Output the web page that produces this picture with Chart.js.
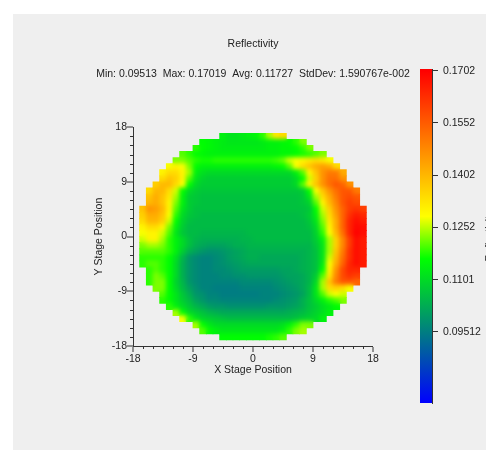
<!DOCTYPE html>
<html>
<head>
<meta charset="utf-8">
<title>Reflectivity</title>
<script src="https://cdn.jsdelivr.net/npm/chart.js@4/dist/chart.umd.js"></script>
<style>
    html, body { margin: 0; padding: 0; background: #fff; overflow: hidden; }
    #fondo { position: absolute; left: 13px; top: 14px; width: 473px; height: 436px; background: #efefef; }
    #mapa { position: absolute; left: 0; top: 0; }
    #barra { position: absolute; left: 400px; top: 0; }
    #tituloBarra {
        position: absolute; left: 459px; top: 230px; width: 60px; text-align: center;
        font: 10.5px "Liberation Sans", Arial, sans-serif; color: #222;
        transform: rotate(-90deg);
    }
    canvas, #tituloBarra { filter: blur(0.35px); }
</style>
</head>
<body>
<div id="fondo"></div>
<canvas id="mapa" width="486" height="450"></canvas>
<canvas id="barra" width="86" height="450"></canvas>
<div id="tituloBarra">Reflectivity</div>
<script>
// Reflectivity per die, in units of 0.001, one list per row (top of the wafer first)
const rowP16 = [114,112,112,113,114,115,118,124,132,134];
const rowP15 = [116,115,114,113,112,112,112,112,112,113,114,114,115,116,118,122];
const rowP14 = [118,116,115,114,113,113,113,113,113,113,113,114,114,115,115,116,118,122];
const rowP13 = [120,118,116,115,114,114,114,114,114,114,114,114,114,114,114,115,115,116,117,118,120,122];
const rowP12 = [122,122,120,118,117,117,118,118,118,118,118,118,118,118,118,119,121,126,128,130,132,134,132,128];
const rowP11 = [128,130,128,122,116,114,114,114,114,114,114,114,114,114,114,114,115,116,120,128,134,138,142,144,142,134];
const rowP10 = [130,134,134,130,124,114,111,110,110,110,110,110,110,110,110,110,110,110,110,110,114,120,130,138,146,150,150,142];
const rowP9 = [134,138,136,130,120,112,109,108,108,108,108,108,108,108,108,108,108,108,108,108,110,116,126,136,146,152,152,146];
const rowP8 = [136,140,140,134,128,116,110,108,108,108,108,108,108,108,108,108,108,108,108,108,108,110,120,130,138,146,152,156,154,146];
const rowP7 = [134,140,140,134,126,116,110,108,107,107,107,107,107,107,107,107,107,107,107,107,107,107,107,108,116,128,138,146,152,156,156,150];
const rowP6 = [138,142,138,132,124,114,108,107,106,106,106,106,106,106,106,106,106,106,106,106,106,106,106,107,112,124,134,142,150,156,158,156];
const rowP5 = [140,142,138,130,122,114,108,107,106,106,106,106,106,106,106,106,106,106,106,106,106,106,106,107,109,120,130,140,148,156,160,158];
const rowP4 = [138,146,144,140,130,120,112,108,106,106,106,106,106,106,106,106,106,106,106,106,106,106,106,106,106,107,116,126,136,146,154,160,162,160];
const rowP3 = [136,142,142,138,128,118,110,107,106,105,105,105,105,105,105,105,105,105,105,105,105,105,105,105,106,108,114,124,134,144,154,162,166,164];
const rowP2 = [134,140,140,136,126,116,109,106,105,105,105,105,105,105,105,105,105,105,105,105,105,105,105,105,105,107,112,122,132,142,154,164,168,166];
const rowP1 = [130,134,134,130,122,114,108,105,105,105,105,105,105,105,105,105,105,105,105,105,105,105,105,105,105,106,110,120,130,142,154,164,169,168];
const rowP0 = [128,130,130,126,120,112,107,105,105,104,104,104,104,104,104,104,105,105,105,105,105,105,105,105,105,105,109,118,128,140,152,164,170,168];
const rowN0 = [126,130,130,124,118,114,110,106,104,103,103,103,103,103,103,104,104,105,105,105,105,105,105,105,105,105,108,114,124,136,148,160,168,166];
const rowN1 = [122,124,124,122,118,114,110,106,103,102,101,101,101,102,103,103,104,104,104,104,104,104,104,104,104,104,107,112,124,136,148,160,168,166];
const rowN2 = [120,120,120,120,118,114,108,103,101,99,98,98,99,100,101,102,103,103,103,103,103,103,103,103,103,104,106,112,124,138,150,162,168,166];
const rowN3 = [118,118,118,118,116,111,104,99,97,96,96,97,98,100,101,102,103,103,102,102,102,102,102,102,103,104,106,112,126,140,152,162,168,166];
const rowN4 = [118,120,120,118,116,110,103,99,97,96,96,97,98,99,100,101,102,102,102,102,102,102,102,102,103,104,106,113,128,142,154,164,168,166];
const rowN5 = [118,120,118,116,110,103,99,97,96,96,97,97,98,99,100,100,100,100,100,100,101,101,102,103,104,106,116,130,146,158,164,164];
const rowN6 = [118,122,120,116,110,103,99,97,96,96,96,97,97,98,98,99,99,99,99,99,100,101,101,102,104,108,120,132,148,158,162,160];
const rowN7 = [118,122,122,116,109,104,99,97,96,96,96,96,96,96,97,97,97,97,97,98,99,100,101,102,104,110,124,138,150,156,156,154];
const rowN8 = [122,122,116,110,105,101,98,96,96,95,95,95,95,96,96,96,96,96,97,98,99,100,102,105,112,124,134,136,134,128];
const rowN9 = [120,116,112,107,103,99,98,96,96,95,95,95,95,95,95,96,96,96,97,98,99,101,105,112,120,126,128,126];
const rowN10 = [118,116,112,108,105,101,99,97,97,96,96,96,96,96,96,96,96,97,98,99,100,103,106,110,114,118,120,122];
const rowN11 = [118,114,110,107,104,102,100,99,99,98,98,98,98,98,98,99,99,99,100,101,103,106,108,111,113,116];
const rowN12 = [124,116,110,108,106,104,103,102,102,102,102,102,102,102,102,102,102,103,104,105,107,109,111,114];
const rowN13 = [128,118,112,109,108,107,106,105,105,105,105,105,105,105,105,105,105,106,108,109,110,114];
const rowN14 = [124,116,112,110,110,110,110,110,110,110,110,110,110,111,114,118,122,122];
const rowN15 = [120,116,114,112,112,112,112,112,112,112,112,112,114,118,122,124];
const rowN16 = [116,116,116,116,116,116,116,117,118,120];

const filas = [rowP16, rowP15, rowP14, rowP13, rowP12, rowP11, rowP10, rowP9, rowP8, rowP7, rowP6, rowP5,
    rowP4, rowP3, rowP2, rowP1, rowP0, rowN0, rowN1, rowN2, rowN3, rowN4, rowN5, rowN6, rowN7, rowN8, rowN9,
    rowN10, rowN11, rowN12, rowN13, rowN14, rowN15, rowN16];
const filasY = [16.5, 15.5, 14.5, 13.5, 12.5, 11.5, 10.5, 9.5, 8.5, 7.5, 6.5, 5.5, 4.5, 3.5, 2.5, 1.5, 0.5,
    -0.5, -1.5, -2.5, -3.5, -4.5, -5.5, -6.5, -7.5, -8.5, -9.5, -10.5, -11.5, -12.5, -13.5, -14.5, -15.5, -16.5];

const ticksMapa = [-18, -9, 0, 9, 18];
const ticksMenores = [-16.5, -15, -13.5, -12, -10.5, -7.5, -6, -4.5, -3, -1.5, 1.5, 3, 4.5, 6, 7.5, 10.5, 12, 13.5, 15, 16.5];
const ticksBarra = [0.09512, 0.1101, 0.1252, 0.1402, 0.1552, 0.1702];
const etiquetasBarra = ['0.09512', '0.1101', '0.1252', '0.1402', '0.1552', '0.1702'];
const barraMin = 0.0746;
const barraMax = 0.1707;

const paradasValor = [0.0746, 0.1161, 0.1283, 0.1702];
const paradasColor = [[0, 0, 255], [0, 255, 0], [255, 255, 0], [255, 0, 0]];

const tituloGrafico = 'Reflectivity';
const resumen = 'Min: 0.09513  Max: 0.17019  Avg: 0.11727  StdDev: 1.590767e-002';

const fuente = '"Liberation Sans", Arial, sans-serif';
const colorTexto = '#222';

// Color for a value, same scale as the bar on the right
const colorDe = (v) => {
    let i = 0;
    while (i < paradasValor.length - 2 && v > paradasValor[i + 1]) i++;
    let t = (v - paradasValor[i]) / (paradasValor[i + 1] - paradasValor[i]);
    t = Math.max(0, Math.min(1, t));
    const a = paradasColor[i];
    const b = paradasColor[i + 1];
    return `rgb(${a[0] + (b[0] - a[0]) * t},${a[1] + (b[1] - a[1]) * t},${a[2] + (b[2] - a[2]) * t})`;
};

const celdas = [];
filas.forEach((fila, f) => {
    fila.forEach((valor, c) => {
        celdas.push({
            x: c - fila.length / 2 + 0.5,
            y: [filasY[f] - 0.5, filasY[f] + 0.5],
            valor: valor / 1000
        });
    });
});

// Shaded look of the map: soften colors between dies, the stepped outline stays sharp
const sombreado = {
    id: 'sombreado',
    afterDatasetsDraw(chart) {
        const { ctx, canvas, chartArea } = chart;
        ctx.save();
        ctx.beginPath();
        ctx.rect(chartArea.left, chartArea.top, chartArea.right - chartArea.left, chartArea.bottom - chartArea.top);
        ctx.clip();
        ctx.globalCompositeOperation = 'source-atop';
        ctx.filter = 'blur(2px)';
        ctx.drawImage(canvas, 0, 0);
        ctx.restore();
    }
};

// Short ticks between the labelled ones
const ticksCortos = {
    id: 'ticksCortos',
    afterDraw(chart) {
        const { ctx, scales: { x, y }, chartArea } = chart;
        ctx.save();
        ctx.strokeStyle = '#333';
        ctx.lineWidth = 1;
        ctx.beginPath();
        ticksMenores.forEach((t) => {
            const px = Math.round(x.getPixelForValue(t)) + 0.5;
            ctx.moveTo(px, chartArea.bottom);
            ctx.lineTo(px, chartArea.bottom + 3);
            const py = Math.round(y.getPixelForValue(t)) + 0.5;
            ctx.moveTo(chartArea.left, py);
            ctx.lineTo(chartArea.left - 3, py);
        });
        ctx.stroke();
        ctx.restore();
    }
};

const ejeMapa = (titulo) => ({
    type: 'linear',
    min: -18,
    max: 18,
    offset: false,
    z: 1,
    afterBuildTicks: (eje) => { eje.ticks = ticksMapa.map((v) => ({ value: v })); },
    ticks: { color: colorTexto, font: { family: fuente, size: 10.5 }, padding: 1, maxRotation: 0, autoSkip: false },
    grid: { drawOnChartArea: false, color: '#333', lineWidth: 0, tickWidth: 1, tickLength: 6, offset: false },
    border: { color: '#333', width: 1 },
    title: { display: true, text: titulo, color: colorTexto, font: { family: fuente, size: 10.5 }, padding: 0 }
});

new Chart(document.getElementById('mapa'), {
    type: 'bar',
    data: {
        datasets: [{
            data: celdas,
            backgroundColor: (c) => colorDe(c.raw ? c.raw.valor : 0.1),
            barThickness: 6.67,
            inflateAmount: 0.4
        }]
    },
    options: {
        responsive: false,
        animation: false,
        devicePixelRatio: 1,
        layout: { padding: { left: 93, right: 73, top: 38, bottom: 74 } },
        plugins: {
            legend: { display: false },
            tooltip: { enabled: false },
            title: {
                display: true, text: tituloGrafico, color: colorTexto,
                font: { family: fuente, size: 10.5, weight: 'normal' }, padding: { top: 0, bottom: 17 }
            },
            subtitle: {
                display: true, text: resumen, color: colorTexto,
                font: { family: fuente, size: 10.5 }, padding: { top: 0, bottom: 47 }
            }
        },
        scales: {
            x: { ...ejeMapa('X Stage Position'), afterFit: (e) => { e.height = 30; } },
            y: {
                ...ejeMapa('Y Stage Position'),
                ticks: { color: colorTexto, font: { family: fuente, size: 10.5 }, padding: 0, autoSkip: false },
                afterFit: (e) => { e.width = 40; }
            },
            // empty axis on the right, keeps the titles centred over the plot
            relleno: {
                type: 'linear', position: 'right', afterFit: (e) => { e.width = 40; },
                ticks: { display: false }, grid: { display: false }, border: { display: false }
            }
        }
    },
    plugins: [sombreado, ticksCortos]
});

// Color bar, a single floating bar filled with the scale
new Chart(document.getElementById('barra'), {
    type: 'bar',
    data: {
        labels: [''],
        datasets: [{
            data: [[barraMin, barraMax]],
            barPercentage: 1,
            categoryPercentage: 1,
            backgroundColor: (c) => {
                const area = c.chart.chartArea;
                if (!area) return '#000';
                const y = c.chart.scales.y;
                const g = c.chart.ctx.createLinearGradient(0, y.getPixelForValue(barraMin), 0, y.getPixelForValue(barraMax));
                paradasValor.forEach((v, i) => {
                    const p = paradasColor[i];
                    g.addColorStop((v - barraMin) / (barraMax - barraMin), `rgb(${p[0]},${p[1]},${p[2]})`);
                });
                return g;
            }
        }]
    },
    options: {
        responsive: false,
        animation: false,
        devicePixelRatio: 1,
        layout: { padding: { left: 20, right: 0, top: 69, bottom: 47 } },
        plugins: { legend: { display: false }, tooltip: { enabled: false } },
        scales: {
            x: { display: false },
            y: {
                position: 'right',
                min: barraMin,
                max: barraMax,
                afterBuildTicks: (eje) => { eje.ticks = ticksBarra.map((v) => ({ value: v })); },
                afterFit: (e) => { e.width = 54; },
                ticks: {
                    color: colorTexto, font: { family: fuente, size: 10.5 }, padding: 5, autoSkip: false,
                    callback: (v) => etiquetasBarra[ticksBarra.indexOf(v)]
                },
                grid: { drawOnChartArea: false, color: '#333', tickLength: 6 },
                border: { color: '#333' }
            }
        }
    }
});
</script>
</body>
</html>
